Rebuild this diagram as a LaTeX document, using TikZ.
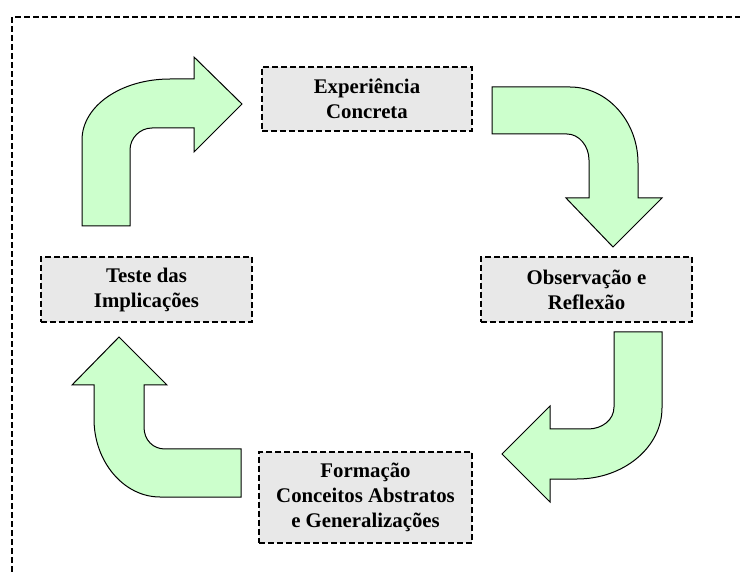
\documentclass[tikz,border=0pt]{standalone}
\usepackage{fontspec}
\setmainfont{Liberation Serif}
\begin{document}
\begin{tikzpicture}[x=1pt,y=-1pt,
  stagebox/.style={draw=black, line width=2.2pt, dash pattern=on 6pt off 3pt,
    fill=boxgray, inner sep=0pt, align=center,
    font=\bfseries\fontsize{20.8}{25}\selectfont},
  blockarrow/.style={draw=black, line width=1pt, fill=arrowgreen, line join=miter},
  frameline/.style={draw=black, line width=1.4pt, dash pattern=on 6pt off 3pt}]
  \definecolor{boxgray}{HTML}{E8E8E8}
  \definecolor{arrowgreen}{HTML}{CCFFCC}
  \useasboundingbox (0,0) rectangle (740,572);

  % outer dashed frame (only its top and left sides fall on the page)
  \draw[frameline] (12,572) -- (12,17) -- (740,17);

  % the four stages of the cycle
  \node[stagebox, minimum width=210pt, minimum height=64pt] (exp) at (367,99)
    {Experiência\\Concreta};
  \node[stagebox, minimum width=211pt, minimum height=65pt] (obs) at (586.5,289.5)
    {Observação e\\Reflexão};
  \node[stagebox, minimum width=213pt, minimum height=91pt] (form) at (365.5,497.5)
    {Formação\\Conceitos Abstratos\\e Generalizações};
  \node[stagebox, minimum width=211pt, minimum height=65pt] (teste) at (146.5,289.5)
    {Teste das\\Implicações};

  % bent block arrows running clockwise between the stages
  \path[blockarrow] (82,226) -- (82,140) .. controls (82,106) and (121,79) .. (170,79)
    -- (194,79) -- (194,57) -- (242,104) -- (194,152) -- (194,128) -- (152,128)
    .. controls (140,128) and (130,138) .. (130,150) -- (130,226) -- cycle;

  \path[blockarrow] (492,87) -- (570,87) .. controls (607,87) and (638,121) .. (638,163)
    -- (638,198) -- (662,198) -- (613,247) -- (566,198) -- (589,198) -- (589,160)
    .. controls (589,146) and (579,134) .. (567,134) -- (492,134) -- cycle;

  \path[blockarrow] (614,332) -- (662,332) -- (662,408) .. controls (662,447) and (624,479) .. (577,479)
    -- (550,479) -- (550,502) -- (502,454) -- (550,406) -- (550,429) -- (588,429)
    .. controls (602,429) and (614,420) .. (614,407) -- cycle;

  \path[blockarrow] (241,449) -- (165,449) .. controls (153,449) and (144,440) .. (144,427)
    -- (144,385) -- (167,385) -- (119,337) -- (72,385) -- (94,385) -- (94,419)
    .. controls (94,462) and (124,497) .. (160,497) -- (241,497) -- cycle;
\end{tikzpicture}
\end{document}
